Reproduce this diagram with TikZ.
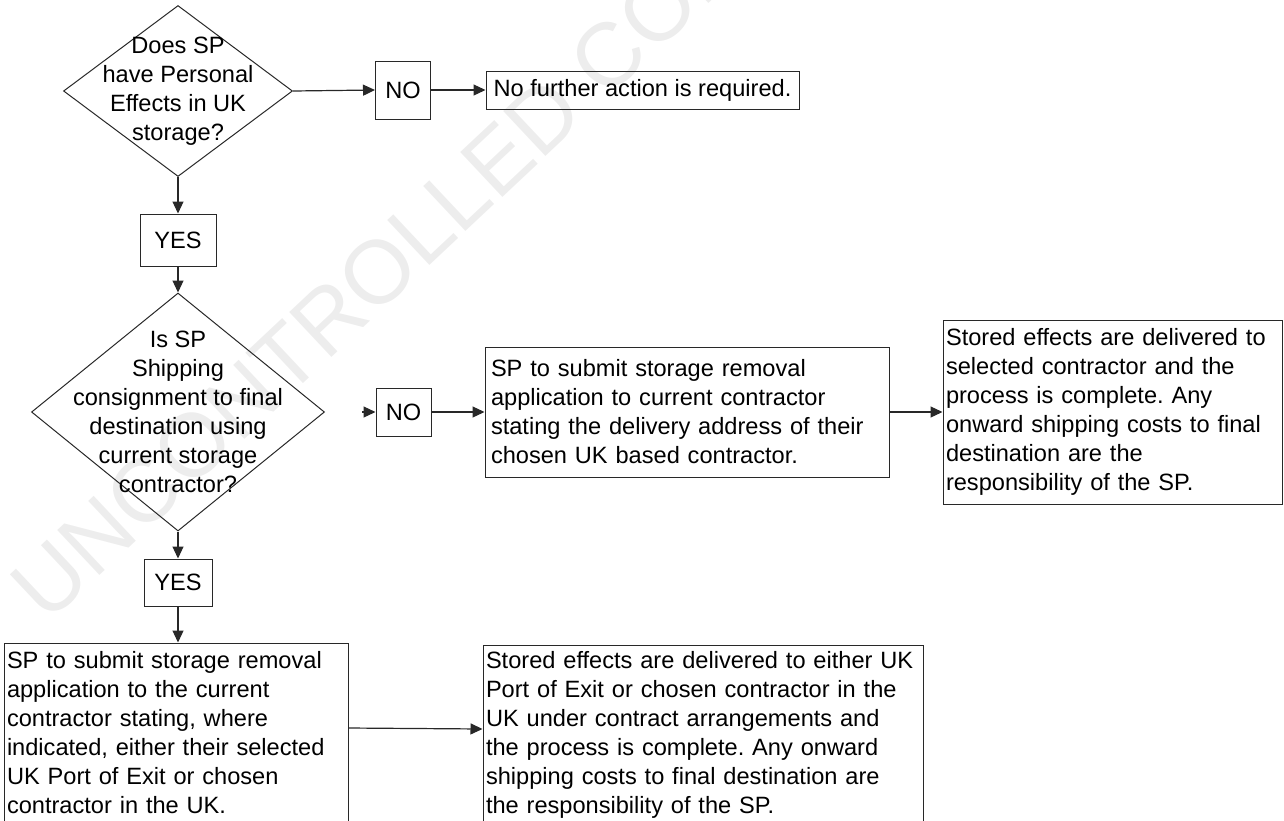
\documentclass[tikz,border=0pt]{standalone}
\usepackage{fontspec}
\setmainfont{Liberation Sans}
\usetikzlibrary{arrows.meta,shapes.geometric}
\definecolor{linegrey}{RGB}{40,40,40}
\definecolor{markgrey}{RGB}{237,237,237}
\frenchspacing

\begin{document}
\begin{tikzpicture}[x=0.5pt, y=-0.5pt, >={Triangle[length=6pt,width=5.5pt]},
    every node/.style={font=\fontsize{11.8}{14.5}\selectfont},
    decision/.style={draw=linegrey, line width=0.5pt, shape=diamond, inner sep=0pt},
    qtext/.style={align=center, inner sep=0pt},
    box/.style={draw=linegrey, line width=0.5pt, inner xsep=2pt, inner ysep=0pt},
    flow/.style={->, draw=linegrey, line width=0.6pt}]
  \useasboundingbox (0,0) rectangle (1284,820);
  \node[rotate=43.2, text=markgrey, font=\fontsize{44.8}{50}\selectfont] (stamp) at (398,253) {UNCONTROLLED COPY};

  \node[decision, minimum width=114.5pt, minimum height=85.5pt] (q1) at (178,91) {};
  \node[qtext] (q1txt) at (q1) {Does SP\\have Personal\\Effects in UK\\storage?};
  \node[box, minimum width=27.5pt, minimum height=29pt] (no1) at (403,90) {NO};
  \node[box, minimum width=156.5pt, minimum height=19pt] (stop) at (642.5,90) {No further action is required.};
  \node[box, minimum width=38pt, minimum height=26pt] (yes1) at (178,240) {YES};

  \node[decision, minimum width=146.5pt, minimum height=119pt] (q2) at (178,412) {};
  \node[qtext] (q2txt) at (q2) {Is SP\\Shipping\\consignment to final\\destination using\\current storage\\contractor?};
  \node[box, minimum width=27.5pt, minimum height=24pt] (no2) at (403.5,412) {NO};
  \node[box, text width=196pt, inner xsep=3pt, minimum height=65pt, align=left] (ukform) at (687,412)
    {SP to submit storage removal\\application to current contractor\\stating the delivery address of their\\chosen UK based contractor.};
  \node[box, text width=166.75pt, inner xsep=1.5pt, minimum height=92pt, align=left] (ukdone) at (1112.75,412)
    {Stored effects are delivered to\\selected contractor and the\\process is complete. Any\\onward shipping costs to final\\destination are the\\responsibility of the SP.};
  \node[box, minimum width=34pt, minimum height=23.5pt] (yes2) at (178,582.5) {YES};

  \node[box, text width=169pt, inner xsep=1.5pt, minimum height=90pt, align=left] (portform) at (176,733)
    {SP to submit storage removal\\application to the current\\contractor stating, where\\indicated, either their selected\\UK Port of Exit or chosen\\contractor in the UK.};
  \node[box, text width=217pt, inner xsep=1.5pt, minimum height=90pt, align=left] (portdone) at (703,735)
    {Stored effects are delivered to either UK\\Port of Exit or chosen contractor in the\\UK under contract arrangements and\\the process is complete. Any onward\\shipping costs to final destination are\\the responsibility of the SP.};

  \draw[flow] (q1.east) -- (no1.west);
  \draw[flow] (no1) -- (stop);
  \draw[flow] (q1.south) -- (yes1.north);
  \draw[flow] (yes1) -- (q2.north);
  \coordinate (nostub) at (362,412);
  \draw[flow] (nostub) -- (no2.west);
  \draw[flow] (no2) -- (ukform);
  \draw[flow] (ukform) -- (ukdone);
  \draw[flow] (q2.south) -- (yes2.north);
  \draw[flow] (yes2) -- (yes2 |- portform.north);
  \draw[flow] ([yshift=2.5pt]portform.east) -- ([yshift=3pt]portdone.west);
\end{tikzpicture}
\end{document}
